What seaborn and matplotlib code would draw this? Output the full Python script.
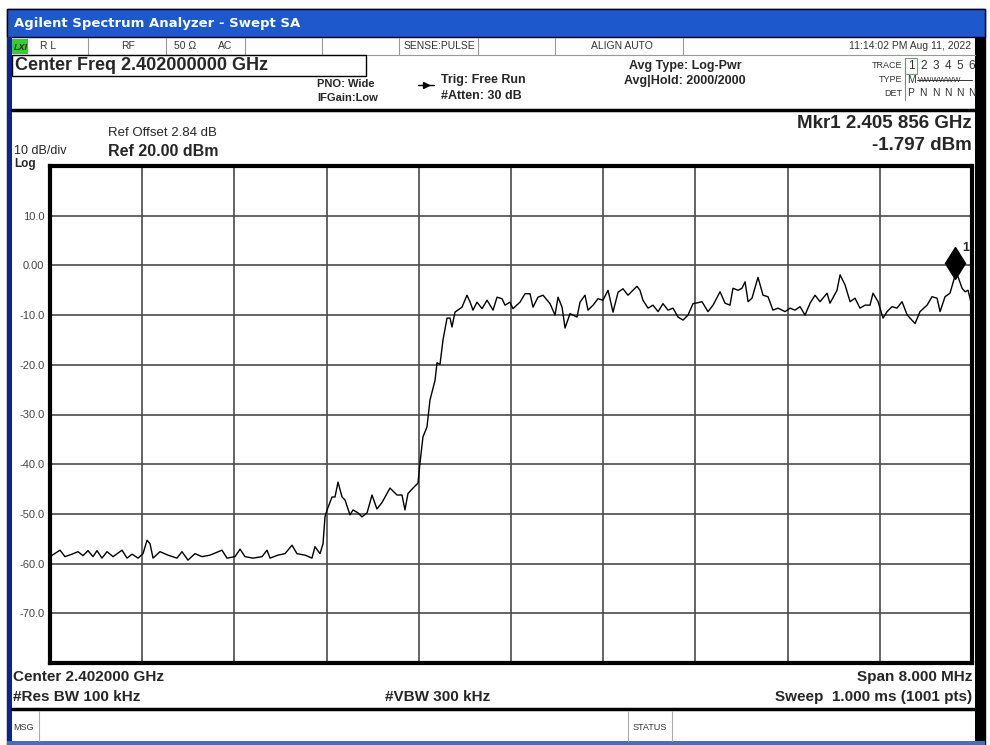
import matplotlib
matplotlib.use("Agg")
import matplotlib.pyplot as plt
import pandas as pd
import seaborn as sns
from matplotlib.patches import Rectangle
from matplotlib.lines import Line2D
from matplotlib.transforms import offset_copy

# Analyzer settings shown on the screen
center_mhz = 2402.0
span_mhz = 8.0
ref_level = 20.0
db_per_div = 10.0
marker_mhz = 2405.856
marker_dbm = -1.797

y_tick_labels = ["-70.0", "-60.0", "-50.0", "-40.0", "-30.0", "-20.0", "-10.0", "0.00", "10.0"]
trace_nums = ["1", "2", "3", "4", "5", "6"]
trace_dets = ["P", "N", "N", "N", "N", "N"]

# Trace: offset from start of span (MHz) and level (dBm)
freq_offset = [
    0.000, 0.087, 0.130, 0.191, 0.243, 0.286, 0.330, 0.373, 0.408, 0.451,
    0.495, 0.547, 0.625, 0.668, 0.712, 0.764, 0.807, 0.842, 0.868, 0.894,
    0.954, 1.024, 1.102, 1.145, 1.197, 1.258, 1.319, 1.388, 1.492, 1.536,
    1.605, 1.649, 1.692, 1.761, 1.840, 1.883, 1.909, 1.978, 2.039, 2.100,
    2.143, 2.213, 2.273, 2.299, 2.343, 2.369, 2.386, 2.404, 2.447, 2.473,
    2.499, 2.534, 2.560, 2.603, 2.629, 2.673, 2.707, 2.751, 2.794, 2.837,
    2.881, 2.950, 3.011, 3.054, 3.080, 3.106, 3.150, 3.193, 3.210, 3.236,
    3.271, 3.297, 3.341, 3.358, 3.384, 3.410, 3.445, 3.471, 3.488, 3.514,
    3.575, 3.618, 3.644, 3.670, 3.705, 3.749, 3.792, 3.818, 3.844, 3.879,
    3.922, 3.948, 3.991, 4.017, 4.078, 4.122, 4.165, 4.191, 4.234, 4.278,
    4.339, 4.382, 4.408, 4.443, 4.469, 4.512, 4.573, 4.599, 4.642, 4.668,
    4.712, 4.755, 4.798, 4.842, 4.885, 4.929, 4.972, 5.015, 5.093, 5.119,
    5.145, 5.189, 5.232, 5.276, 5.319, 5.362, 5.406, 5.449, 5.493, 5.536,
    5.579, 5.623, 5.657, 5.709, 5.753, 5.814, 5.857, 5.900, 5.926, 5.970,
    6.004, 6.031, 6.057, 6.091, 6.143, 6.187, 6.230, 6.273, 6.317, 6.378,
    6.421, 6.464, 6.508, 6.551, 6.595, 6.638, 6.681, 6.742, 6.768, 6.829,
    6.855, 6.898, 6.942, 6.985, 7.028, 7.072, 7.115, 7.141, 7.185, 7.228,
    7.263, 7.306, 7.349, 7.393, 7.436, 7.462, 7.506, 7.549, 7.610, 7.653,
    7.697, 7.723, 7.766, 7.809, 7.856, 7.879, 7.914, 7.940, 7.966, 8.000,
]
level_dbm = [
    -58.6, -57.3, -58.6, -58.1, -57.6, -58.4, -57.4, -58.6, -57.4, -58.9,
    -57.6, -58.6, -57.3, -58.9, -58.1, -58.9, -58.0, -55.3, -56.0, -58.9,
    -57.6, -58.3, -58.9, -57.6, -59.3, -58.0, -58.6, -58.3, -57.3, -58.9,
    -58.6, -57.1, -58.6, -58.9, -58.6, -57.3, -58.9, -58.3, -58.0, -56.3,
    -58.0, -58.3, -58.9, -56.6, -58.0, -56.0, -50.6, -49.2, -46.6, -46.6,
    -43.6, -46.6, -47.2, -50.2, -49.2, -49.8, -50.6, -49.8, -46.2, -49.0,
    -47.7, -44.8, -46.2, -46.2, -49.2, -45.9, -44.8, -43.8, -39.8, -34.5,
    -32.5, -27.1, -23.1, -19.6, -19.9, -15.0, -10.6, -10.6, -12.4, -9.4,
    -8.4, -6.0, -7.3, -9.0, -7.4, -8.7, -7.0, -8.0, -9.0, -6.4,
    -6.7, -8.0, -7.4, -8.7, -7.4, -5.7, -5.7, -8.4, -6.4, -6.0,
    -7.7, -10.0, -6.4, -8.4, -12.6, -9.7, -10.4, -7.4, -6.0, -9.0,
    -8.0, -6.7, -7.0, -5.0, -9.4, -5.4, -4.7, -6.0, -4.2, -5.0,
    -7.0, -8.6, -8.0, -9.3, -7.7, -9.0, -8.6, -10.4, -11.0, -10.0,
    -7.7, -7.5, -7.3, -9.3, -8.0, -5.3, -7.6, -8.0, -4.6, -5.0,
    -4.6, -3.3, -7.3, -6.6, -2.4, -6.0, -6.3, -9.0, -8.6, -9.3,
    -8.6, -9.0, -8.3, -10.0, -7.6, -6.0, -7.3, -5.6, -7.6, -5.0,
    -1.9, -3.9, -7.3, -6.6, -8.6, -8.0, -8.0, -5.6, -7.3, -10.6,
    -9.3, -8.3, -8.6, -7.3, -9.9, -10.6, -11.7, -9.3, -8.0, -6.3,
    -6.6, -9.3, -6.3, -5.6, -1.8, -2.3, -4.6, -5.3, -5.0, -8.3,
]

W, H = 990, 745
BLUE = "#1d58cc"

sns.set_style("white")
plt.rcParams["font.family"] = ["Liberation Sans", "DejaVu Sans"]

fig = plt.figure(figsize=(W / 100, H / 100), dpi=100)
fig.patch.set_facecolor("white")


def ftext(x, y, s, **kw):
    kw.setdefault("va", "center")
    fig.text(x / W, 1 - y / H, s, **kw)


def frect(x0, y0, x1, y1, **kw):
    fig.add_artist(Rectangle((x0 / W, 1 - y1 / H), (x1 - x0) / W, (y1 - y0) / H,
                             transform=fig.transFigure, **kw))


def fline(x0, y0, x1, y1, **kw):
    fig.add_artist(Line2D([x0 / W, x1 / W], [1 - y0 / H, 1 - y1 / H],
                          transform=fig.transFigure, **kw))


# window frame
frect(7, 9, 985, 745, facecolor="white", edgecolor="black", lw=1, zorder=-5)
frect(7, 9, 985, 37, facecolor=BLUE, edgecolor="black", lw=1, zorder=2)
frect(7, 37, 12, 745, facecolor="#0a22a0", edgecolor="none", zorder=2)
frect(975, 37, 985, 745, facecolor="black", edgecolor="none", zorder=2)
frect(7, 741, 985, 745, facecolor="#3a72c8", edgecolor="none", zorder=2)
ftext(14, 24, "Agilent Spectrum Analyzer - Swept SA", color="white", fontsize=9.5,
      fontweight="bold", family=["DejaVu Sans"])

# status row
fline(12, 55, 975, 55, color="#999999", lw=0.8)
for sx in [88, 166, 245, 322, 399, 478, 555, 683]:
    fline(sx, 38, sx, 55, color="#999999", lw=0.8)
frect(12, 39, 28, 54, facecolor="#33cc33", edgecolor="none", zorder=3)
ftext(14, 47, "LXI", fontsize=6.5, fontweight="bold", style="italic", zorder=4)
small = dict(fontsize=7.5, color="#333333")
ftext(40, 46, "R L", **small)
ftext(128, 46, "RF", ha="center", **small)
ftext(174, 46, "50 Ω", **small)
ftext(218, 46, "AC", **small)
ftext(439, 46, "SENSE:PULSE", ha="center", **small)
ftext(622, 46, "ALIGN AUTO", ha="center", **small)
ftext(971, 46, "11:14:02 PM Aug 11, 2022", ha="right", **small)

# settings block
frect(12, 55, 366, 76, facecolor="none", edgecolor="black", lw=1, zorder=3)
ftext(15, 66, "Center Freq 2.402000000 GHz", fontsize=13, fontweight="bold")
ftext(317, 84, "PNO: Wide", fontsize=8, fontweight="bold")
ftext(317, 98, "IFGain:Low", fontsize=8, fontweight="bold")
fline(418, 85, 434, 85, color="black", lw=1)
fig.add_artist(Line2D([426 / W], [1 - 85 / H], marker=">", ms=4, color="black",
                      transform=fig.transFigure))
ftext(441, 80, "Trig: Free Run", fontsize=9, fontweight="bold")
ftext(441, 96, "#Atten: 30 dB", fontsize=9, fontweight="bold")
ftext(685, 66, "Avg Type: Log-Pwr", ha="center", fontsize=9, fontweight="bold")
ftext(685, 81, "Avg|Hold: 2000/2000", ha="center", fontsize=9, fontweight="bold")
ftext(902, 66, "TRACE", ha="right", fontsize=6.5, color="#333333")
ftext(902, 80, "TYPE", ha="right", fontsize=6.5, color="#333333")
ftext(902, 93, "DET", ha="right", fontsize=6.5, color="#333333")
fline(905, 58, 905, 100, color="#888888", lw=0.8)
frect(905, 58, 917, 74, facecolor="none", edgecolor="#66aa66", lw=0.8)
for i, (num, det) in enumerate(zip(trace_nums, trace_dets)):
    ftext(911 + i * 12.2, 66, num, ha="center", fontsize=8.5, color="#333333")
    ftext(911 + i * 12.2, 93, det, ha="center", fontsize=7.5, color="#333333")
ftext(907, 80, "M", fontsize=7.5, color="#333333")
ftext(918, 80, "WWWWWW", fontsize=5.5, color="#333333")
fline(917, 80, 972, 80, color="#333333", lw=0.7)
fline(12, 110, 975, 110, color="black", lw=2.5)

# plot panel texts
ftext(108, 133, "Ref Offset 2.84 dB", fontsize=9.5)
ftext(108, 151, "Ref 20.00 dBm", fontsize=11.5, fontweight="bold")
ftext(14, 151, "10 dB/div", fontsize=9)
ftext(14, 164, "Log", fontsize=8.5, fontweight="bold")
ftext(972, 123, "Mkr1 2.405 856 GHz", ha="right", fontsize=13.5, fontweight="bold")
ftext(972, 146, "-1.797 dBm", ha="right", fontsize=13.5, fontweight="bold")

ftext(13, 677, "Center 2.402000 GHz", fontsize=11, fontweight="bold")
ftext(13, 697, "#Res BW 100 kHz", fontsize=11, fontweight="bold")
ftext(385, 697, "#VBW 300 kHz", fontsize=11, fontweight="bold")
ftext(972, 677, "Span 8.000 MHz", ha="right", fontsize=11, fontweight="bold")
ftext(972, 697, "Sweep  1.000 ms (1001 pts)", ha="right", fontsize=11, fontweight="bold")
fline(12, 709, 975, 709, color="black", lw=2.5)
for sx in [39, 628, 672]:
    fline(sx, 711, sx, 741, color="#aaaaaa", lw=0.8)
ftext(13, 727, "MSG", fontsize=6.5, color="#333333")
ftext(650, 727, "STATUS", ha="center", fontsize=6.5, color="#333333")

# trace
start = center_mhz - span_mhz / 2
stop = center_mhz + span_mhz / 2
df = pd.DataFrame({"freq": [start + f for f in freq_offset], "level": level_dbm})

ax = fig.add_axes([50 / W, 1 - 663 / H, 922 / W, 497 / H])
sns.lineplot(data=df, x="freq", y="level", ax=ax, color="black", linewidth=1.0,
             estimator=None, sort=False)
ax.set_xlim(start, stop)
ax.set_ylim(ref_level - 10 * db_per_div, ref_level)
ax.set_xticks([start + i * span_mhz / 10 for i in range(11)])
ax.set_xticklabels([])
ax.set_yticks([ref_level - i * db_per_div for i in range(10, -1, -1)])
ax.set_yticklabels([""] + y_tick_labels + [""])
ax.tick_params(axis="both", length=0)
ax.tick_params(axis="y", pad=4, labelsize=8, labelcolor="#444444")
ax.grid(True, color="#4a4a4a", linewidth=1.2)
ax.set_xlabel("")
ax.set_ylabel("")
for sp in ax.spines.values():
    sp.set_color("black")
    sp.set_linewidth(3)

# marker 1
tr = offset_copy(ax.transData, fig=fig, y=8.5, units="points")
ax.plot([marker_mhz], [marker_dbm], marker="d", ms=16.5, color="black",
        transform=tr, clip_on=False)
ax.annotate("1", (marker_mhz, marker_dbm), xytext=(5, 17), textcoords="offset points",
            fontsize=9, fontweight="bold")

fig.savefig("out.png", dpi=100)
